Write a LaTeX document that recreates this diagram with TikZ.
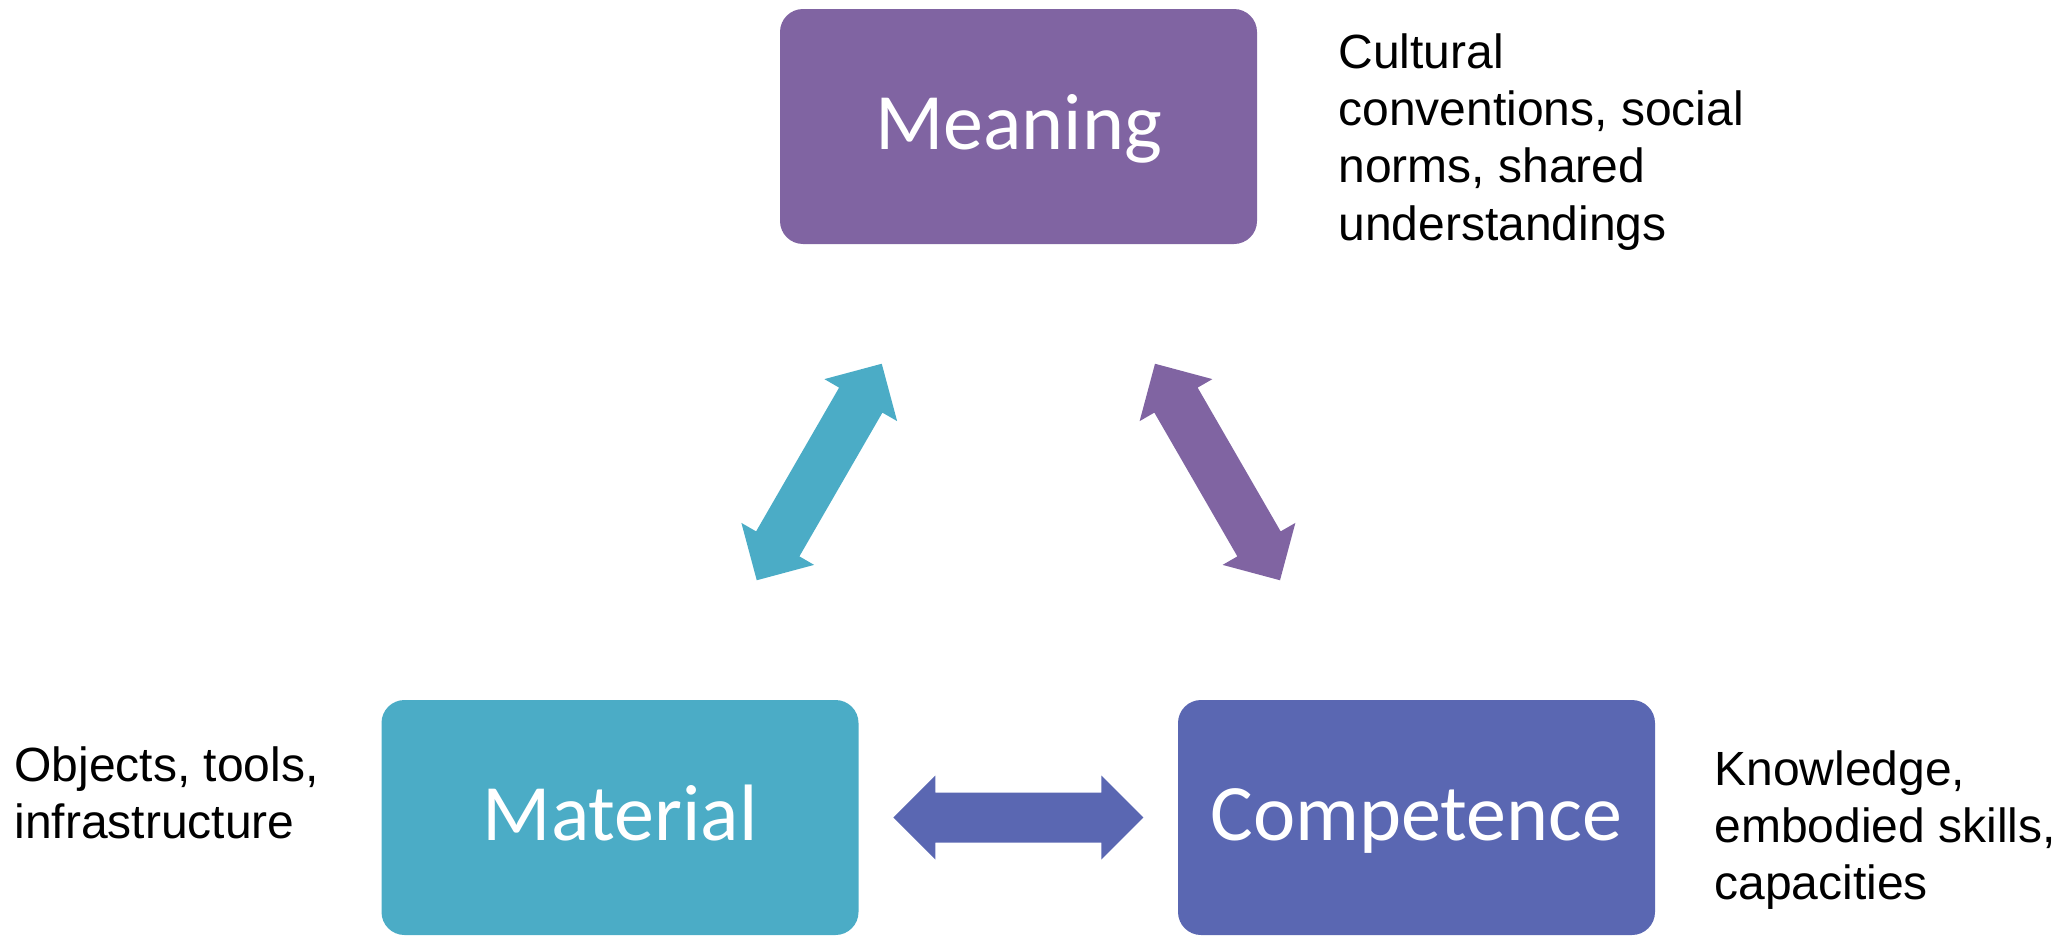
\documentclass[tikz,border=0pt]{standalone}
\usepackage{fontspec}
\setmainfont{Liberation Sans}
\newfontfamily\boxfont{Carlito}
\usetikzlibrary{calc}
\definecolor{meacol}{HTML}{8064A2}
\definecolor{matcol}{HTML}{4BACC6}
\definecolor{comcol}{HTML}{5A67B2}
\tikzset{
  box/.style={rounded corners=11.5pt, minimum width=238.5pt, minimum height=117.5pt,
    inner sep=0pt, text=white, font=\boxfont\fontsize{40}{48}\selectfont,
    text height=25.5pt, text depth=3pt},
  sidetext/.style={anchor=north west, inner sep=0pt, align=left, text=black},
}
\newcommand{\dblarrow}[3]{%
  \begin{scope}[shift={(#1)}, rotate=#2]
    \fill[#3] (-125,0) -- (-83,42) -- (-83,25) -- (83,25) -- (83,42) -- (125,0)
      -- (83,-42) -- (83,-25) -- (-83,-25) -- (-83,-42) -- cycle;
  \end{scope}}
\begin{document}
\begin{tikzpicture}[x=0.5pt, y=-0.5pt]
\useasboundingbox (0,0) rectangle (2062,937);
\node[box, fill=meacol] (mea) at (1018.5,126.5) {Meaning};
\node[box, fill=matcol] (mat) at (620,817.5) {Material};
\node[box, fill=comcol] (com) at (1416.5,817.5) {Competence};
\coordinate (a1) at ($(mat.east)!0.5!(com.west)$);
\coordinate (a2) at ($(mat.center)!0.5!(mea.center)$);
\coordinate (a3) at ($(mea.center)!0.5!(com.center)$);
\dblarrow{a1}{0}{comcol}
\dblarrow{a2}{60}{matcol}
\dblarrow{a3}{120}{meacol}
\node[sidetext, font=\fontsize{24}{28.65}\selectfont] (meat) at (1338,33)
  {Cultural\\conventions, social\\norms, shared\\understandings};
\node[sidetext, font=\fontsize{24}{28.5}\selectfont] (matt) at (14,746)
  {Objects, tools,\\infrastructure};
\node[sidetext, font=\fontsize{24}{28.5}\selectfont] (comt) at (1714,750)
  {Knowledge,\\embodied skills,\\capacities};
\end{tikzpicture}
\end{document}
